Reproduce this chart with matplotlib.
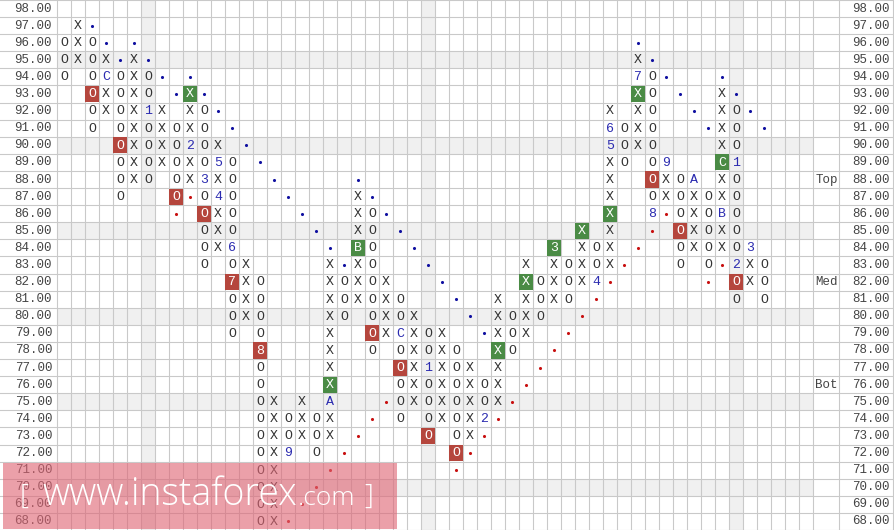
import matplotlib
matplotlib.use('Agg')
import matplotlib.pyplot as plt
from matplotlib.patches import Rectangle

# ---- data (point & figure columns) ----
col_kind = list('OXOXOXOXOXOXOXOXOXOXOXOXOXOXOXOXOXOXOXOXOXOXOXOXOXO')
col_low = [94, 95, 91, 92, 87, 88, 88, 89, 87, 88, 83, 84, 79, 80, 68, 68, 72, 73, 72, 73,
           80, 81, 78, 79, 74, 75, 73, 74, 72, 73, 74, 75, 78, 79, 80, 81, 81, 82, 82, 83,
           89, 90, 86, 87, 83, 84, 83, 84, 81, 82, 81]
col_high = [96, 97, 96, 95, 94, 95, 94, 92, 91, 93, 92, 90, 89, 83, 82, 75, 74, 75, 74, 83,
            82, 87, 86, 82, 81, 80, 79, 79, 78, 77, 76, 81, 80, 83, 82, 84, 83, 85, 84, 92,
            91, 95, 94, 89, 88, 88, 87, 93, 92, 84, 83]

# month marks (col, price, char)
month_marks = [(3, 94, 'C'), (6, 92, '1'), (9, 90, '2'), (10, 88, '3'), (11, 87, '4'), (11, 89, '5'),
               (12, 84, '6'), (12, 82, '7'), (14, 78, '8'), (16, 72, '9'), (19, 75, 'A'), (21, 84, 'B'),
               (24, 79, 'C'), (26, 77, '1'), (30, 74, '2'), (35, 84, '3'), (38, 82, '4'), (39, 90, '5'),
               (39, 91, '6'), (41, 94, '7'), (42, 86, '8'), (43, 89, '9'), (45, 88, 'A'), (47, 86, 'B'),
               (47, 89, 'C'), (48, 89, '1'), (48, 83, '2'), (49, 84, '3')]

red_boxes = [(2, 93), (4, 90), (8, 87), (10, 86), (12, 82), (14, 78), (22, 79), (24, 77),
             (26, 73), (28, 72), (42, 88), (44, 85), (48, 82)]
green_boxes = [(9, 93), (19, 76), (21, 84), (31, 78), (33, 82), (35, 84), (37, 85), (39, 86),
               (41, 93), (47, 89)]

blue_dots = [(2, 97), (3, 96), (4, 95), (5, 96), (6, 95), (7, 94), (8, 93), (9, 94), (10, 93),
             (11, 92), (12, 91), (13, 90), (14, 89), (15, 88), (16, 87), (17, 86), (18, 85),
             (19, 84), (20, 83), (21, 88), (22, 87), (23, 86), (24, 85), (25, 84), (26, 83),
             (27, 82), (28, 81), (29, 80), (30, 79), (41, 96), (42, 95), (43, 94), (44, 93),
             (45, 92), (46, 91), (47, 94), (48, 93), (49, 92), (50, 91)]
red_dots = [(8, 86), (9, 87), (16, 68), (17, 69), (18, 70), (19, 71), (20, 72), (21, 73),
            (22, 74), (23, 75), (28, 71), (29, 72), (30, 73), (31, 74), (32, 75), (33, 76),
            (34, 77), (35, 78), (36, 79), (37, 80), (38, 81), (39, 82), (40, 83), (41, 84),
            (42, 85), (43, 86), (46, 82), (47, 83)]

prices = list(range(68, 99))
zone_labels = [(88, 'Top'), (82, 'Med'), (76, 'Bot')]
shaded_rows = [95, 90, 85, 80, 75, 70]
shaded_cols = [6, 26, 48]
n_cols = 54

# pixel layout: first column starts at 57px, 14px per column, 17.1px per row
x_left = -57 / 14.
x_right = (894 - 57) / 14.
x_zone = (839 - 57) / 14.

mono = 'Liberation Mono'
grid_c = '#c9c9c9'
shade_c = '#f0f0f0'
red_c = '#b5463d'
green_c = '#4a8b45'
blue_txt = '#2b2bb0'

fig = plt.figure(figsize=(8.94, 5.30), dpi=100)
ax = fig.add_axes([0, 0, 1, 1])
ax.set_xlim(x_left, x_right)
ax.set_ylim(67.5, 98.5)
ax.axis('off')

# shading
for p in shaded_rows:
    ax.add_patch(Rectangle((0, p - 0.5), n_cols, 1, facecolor=shade_c, edgecolor='none', zorder=0))
for c in shaded_cols:
    ax.add_patch(Rectangle((c, 67.5), 1, 31, facecolor=shade_c, edgecolor='none', zorder=0))

# grid
for p in prices:
    ax.axhline(p + 0.5, color=grid_c, lw=0.8, zorder=1)
ax.axhline(67.5, color=grid_c, lw=0.8, zorder=1)
for c in range(0, n_cols + 1):
    ax.axvline(c, color=grid_c, lw=0.8, zorder=1)
ax.axvline(x_zone, color=grid_c, lw=0.8, zorder=1)
ax.axvline(x_right - 0.07, color=grid_c, lw=0.8, zorder=1)

# price labels
for p in prices:
    ax.text(-0.35, p, '%.2f' % p, ha='right', va='center', fontsize=9, family=mono, color='#444444')
    ax.text(x_right - 0.3, p, '%.2f' % p, ha='right', va='center', fontsize=9, family=mono, color='#444444')
for p, t in zone_labels:
    ax.text(54.15, p, t, ha='left', va='center', fontsize=9, family=mono, color='#444444')

# boxes
special = {}
for c, p, ch in month_marks:
    special[(c, p)] = ch
for c, p in red_boxes:
    ax.add_patch(Rectangle((c + 0.02, p - 0.47), 0.96, 0.94, facecolor=red_c, edgecolor='none', zorder=2))
for c, p in green_boxes:
    ax.add_patch(Rectangle((c + 0.02, p - 0.47), 0.96, 0.94, facecolor=green_c, edgecolor='none', zorder=2))
boxed = set(red_boxes) | set(green_boxes)

# X / O columns
for i, k in enumerate(col_kind):
    for p in range(col_low[i], col_high[i] + 1):
        ch = special.get((i, p), k)
        if (i, p) in boxed:
            clr = 'white'
        elif (i, p) in special:
            clr = blue_txt
        else:
            clr = '#333333'
        ax.text(i + 0.5, p - 0.02, ch, ha='center', va='center', fontsize=9.5, family=mono,
                color=clr, zorder=3)

# trend dots
ax.scatter([c + 0.5 for c, p in blue_dots], [p for c, p in blue_dots], s=5, color='#1010a0', zorder=3, lw=0)
ax.scatter([c + 0.5 for c, p in red_dots], [p for c, p in red_dots], s=5, color='#c81010', zorder=3, lw=0)

# watermark
wx0, wx1 = (3 - 57) / 14., (397 - 57) / 14.
ax.add_patch(Rectangle((wx0, 67.55), wx1 - wx0, 3.85, facecolor='#df6675', alpha=0.62,
                       edgecolor='none', zorder=5))
ax.text((20 - 57) / 14., 69.45, '[', ha='left', va='center', fontsize=20, color='white',
        family='Open Sans', fontweight='light', zorder=6)
ax.text((42 - 57) / 14., 69.55, 'www.instaforex', ha='left', va='center', fontsize=27,
        color='white', family='Open Sans', fontweight='light', zorder=6)
ax.text((298 - 57) / 14., 69.35, '.com', ha='left', va='center', fontsize=19,
        color='white', family='Open Sans', fontweight='light', zorder=6)
ax.text((364 - 57) / 14., 69.45, ']', ha='left', va='center', fontsize=20, color='white',
        family='Open Sans', fontweight='light', zorder=6)

fig.savefig('out.png', dpi=100)
